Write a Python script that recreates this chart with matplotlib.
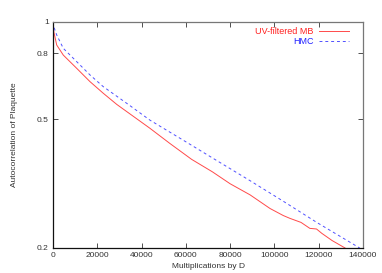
import numpy as np
import matplotlib
matplotlib.use("Agg")
import matplotlib.pyplot as plt
from matplotlib.ticker import FixedLocator, NullLocator, FixedFormatter

plt.rcParams['font.family'] = ['Liberation Sans', 'DejaVu Sans']

# UV-filtered MB (red, solid)
mb_x = [0, 400, 1670, 4650, 10700, 16700, 22700, 28800, 43800, 52800, 62600,
        72000, 80000, 89000, 98000, 104000, 107000, 112000, 116000, 119000,
        121400, 126000, 131900]
mb_y = [1.0, 0.93, 0.849, 0.790, 0.719, 0.654, 0.602, 0.556, 0.469, 0.421, 0.376,
        0.344, 0.316, 0.292, 0.265, 0.252, 0.247, 0.240, 0.230, 0.229,
        0.222, 0.211, 0.200]

# HMC (blue, dashed)
hmc_x = [0, 400, 1670, 4650, 10700, 16700, 22700, 34000, 43800, 58800, 73900,
         89000, 104000, 119100, 138500]
hmc_y = [1.0, 0.965, 0.912, 0.829, 0.754, 0.686, 0.631, 0.556, 0.497, 0.431, 0.373,
         0.323, 0.279, 0.240, 0.200]

xticks = [0, 20000, 40000, 60000, 80000, 100000, 120000, 140000]
yticks = [0.2, 0.5, 0.8, 1]
ytick_labels = ['0.2', '0.5', '0.8', '1']

fig = plt.figure(figsize=(3.82, 2.73), dpi=100)
ax = fig.add_axes([53/382, 1 - 248/273, 310/382, 226/273])

ax.plot(mb_x, mb_y, color='#ff4a4a', lw=0.7, label='UV-filtered MB')
ax.plot(hmc_x, hmc_y, color='#5050ff', lw=0.7, dashes=(3, 3), label='HMC')

ax.set_yscale('log')
ax.set_xlim(0, 140000)
ax.set_ylim(0.2, 1)
ax.xaxis.set_major_locator(FixedLocator(xticks))
ax.yaxis.set_major_locator(FixedLocator(yticks))
ax.yaxis.set_major_formatter(FixedFormatter(ytick_labels))
ax.yaxis.set_minor_locator(NullLocator())
ax.tick_params(direction='in', length=3.5, width=0.6, labelsize=6,
               top=True, right=True, pad=3, colors='#333333')

for side in ['left', 'bottom']:
    ax.spines[side].set_color('#111111')
    ax.spines[side].set_linewidth(0.9)
for side in ['top', 'right']:
    ax.spines[side].set_color('#777777')
    ax.spines[side].set_linewidth(0.9)

ax.set_xlabel('Multiplications by D', fontsize=6, labelpad=3, color='#333333')
ax.set_ylabel('Autocorrelation of Plaquette', fontsize=6, labelpad=14, color='#333333')

leg = ax.legend(loc='upper right', frameon=False, fontsize=6.5, markerfirst=False,
                labelcolor=['#ff2020', '#2020ff'], handlelength=3.3,
                handletextpad=0.6, labelspacing=0.1, borderaxespad=0.3,
                bbox_to_anchor=(0.975, 1.005))

fig.savefig('out.png', dpi=100)
